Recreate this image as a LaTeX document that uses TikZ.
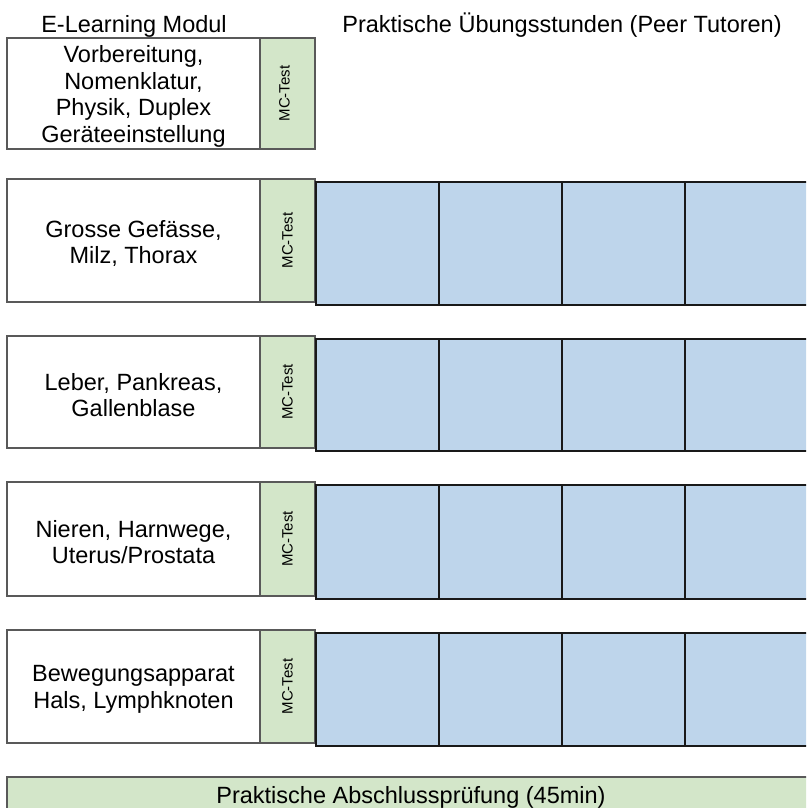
\documentclass[tikz,border=0pt]{standalone}
\usepackage{fontspec}
\setmainfont{Liberation Sans}
\usetikzlibrary{calc}

\definecolor{mcgreen}{RGB}{211,230,201}
\definecolor{tutorblue}{RGB}{190,213,235}

\tikzset{
	modulbox/.style={draw=black!65,line width=1.2pt,fill=white,minimum width=253pt,inner sep=0pt},
	modultext/.style={align=center,inner sep=0pt,font=\fontsize{23.5}{26.5}\selectfont},
	testbox/.style={draw=black!65,line width=1.2pt,fill=mcgreen,minimum width=55pt,inner sep=0pt},
	testlabel/.style={rotate=90,inner sep=0pt,font=\fontsize{15}{17}\selectfont},
	uebungbox/.style={draw=black!90,line width=2.6pt,fill=tutorblue,minimum width=123pt,inner sep=0pt},
	heading/.style={anchor=base,inner sep=0pt,font=\fontsize{23.5}{25.5}\selectfont}
}

\begin{document}
\begin{tikzpicture}[x=1pt,y=-1pt]
	\clip (0,0) rectangle (806,808);
	\fill[white] (0,0) rectangle (806,808);

	%headings
	\node[heading] (elearning) at (134,33)	{E-Learning Modul};
	\node[heading] (tutoren) at (562,33)	{Praktische Übungsstunden (Peer Tutoren)};

	%row 1 (no tutor sessions)
	\node[modulbox,minimum height=111pt] (modul1) at (133.5,93.5) {};
		\node[modultext] (thema1) at ([yshift=-3pt]modul1) {Vorbereitung,\\Nomenklatur,\\Physik, Duplex\\Geräteeinstellung};
	\node[testbox,minimum height=111pt] (test1) at (287.5,93.5) {};
		\node[testlabel,yshift=3pt] (mc1) at (test1) {MC-Test};

	%row 2
	\node[modulbox,minimum height=123pt] (modul2) at (133.5,240.5) {};
		\node[modultext] (thema2) at ([yshift=-3pt]modul2) {Grosse Gefässe,\\Milz, Thorax};
	\node[testbox,minimum height=123pt] (test2) at (287.5,240.5) {};
		\node[testlabel] (mc2) at (test2) {MC-Test};
	\node[uebungbox,minimum height=123pt] (ueb2a) at (377.5,243.5) {};
	\node[uebungbox,minimum height=123pt] (ueb2b) at (500.5,243.5) {};
	\node[uebungbox,minimum height=123pt] (ueb2c) at (623.5,243.5) {};
	\node[uebungbox,minimum height=123pt] (ueb2d) at (746.5,243.5) {};

	%row 3
	\node[modulbox,minimum height=112pt] (modul3) at (133.5,392) {};
		\node[modultext] (thema3) at ([yshift=-3pt]modul3) {Leber, Pankreas,\\Gallenblase};
	\node[testbox,minimum height=112pt] (test3) at (287.5,392) {};
		\node[testlabel] (mc3) at (test3) {MC-Test};
	\node[uebungbox,minimum height=112pt] (ueb3a) at (377.5,395) {};
	\node[uebungbox,minimum height=112pt] (ueb3b) at (500.5,395) {};
	\node[uebungbox,minimum height=112pt] (ueb3c) at (623.5,395) {};
	\node[uebungbox,minimum height=112pt] (ueb3d) at (746.5,395) {};

	%row 4
	\node[modulbox,minimum height=114pt] (modul4) at (133.5,539) {};
		\node[modultext] (thema4) at ([yshift=-3pt]modul4) {Nieren, Harnwege,\\Uterus/Prostata};
	\node[testbox,minimum height=114pt] (test4) at (287.5,539) {};
		\node[testlabel] (mc4) at (test4) {MC-Test};
	\node[uebungbox,minimum height=114pt] (ueb4a) at (377.5,542) {};
	\node[uebungbox,minimum height=114pt] (ueb4b) at (500.5,542) {};
	\node[uebungbox,minimum height=114pt] (ueb4c) at (623.5,542) {};
	\node[uebungbox,minimum height=114pt] (ueb4d) at (746.5,542) {};

	%row 5
	\node[modulbox,minimum height=113pt] (modul5) at (133.5,686.5) {};
		\node[modultext] (thema5) at ([yshift=-3pt]modul5) {Bewegungsapparat\\Hals, Lymphknoten};
	\node[testbox,minimum height=113pt] (test5) at (287.5,686.5) {};
		\node[testlabel] (mc5) at (test5) {MC-Test};
	\node[uebungbox,minimum height=113pt] (ueb5a) at (377.5,689.5) {};
	\node[uebungbox,minimum height=113pt] (ueb5b) at (500.5,689.5) {};
	\node[uebungbox,minimum height=113pt] (ueb5c) at (623.5,689.5) {};
	\node[uebungbox,minimum height=113pt] (ueb5d) at (746.5,689.5) {};

	%final exam bar
	\node[testbox,minimum width=808pt,minimum height=40pt,font=\fontsize{23.5}{25.5}\selectfont] (abschluss) at (411,797) {Praktische Abschlussprüfung (45min)};
\end{tikzpicture}
\end{document}
